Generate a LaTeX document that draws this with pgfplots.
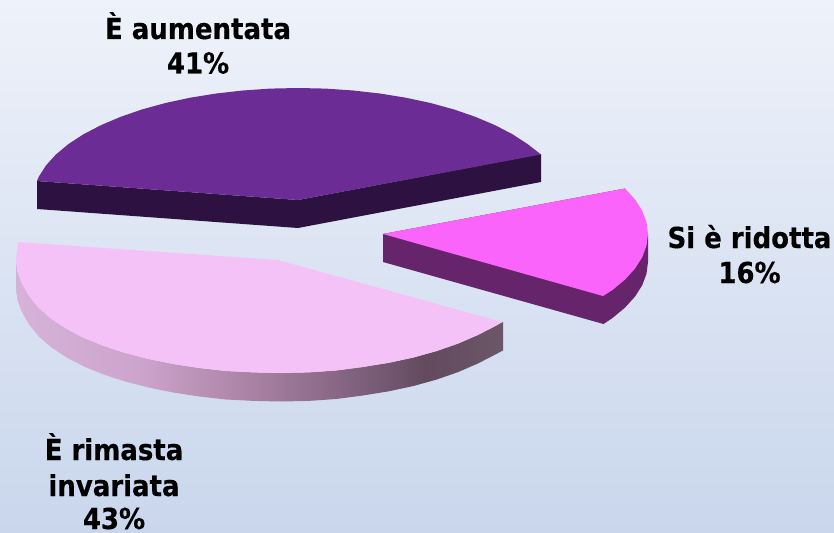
\documentclass[border=0pt]{standalone}
\usepackage{pgfplots}
\pgfplotsset{compat=1.18}
\usepackage{fontspec}
\setmainfont{DejaVu Sans Condensed}[BoldFeatures={FakeBold=0.35}]
\definecolor{bgtop}{HTML}{EEF2FA}
\definecolor{bgbot}{HTML}{C9D6EC}
\definecolor{aumtop}{HTML}{6B2C96}
\definecolor{aumside}{HTML}{2D1140}
\definecolor{ridtop}{HTML}{FA64FA}
\definecolor{ridside}{HTML}{66246A}
\definecolor{invtop}{HTML}{F5C2F8}
% Side wall of the large pale slice: light on the left, dark towards the right
\pgfdeclarehorizontalshading{invwall}{100bp}{
  rgb(0bp)=(0.84,0.70,0.85);
  rgb(25bp)=(0.84,0.70,0.85);
  rgb(38bp)=(0.80,0.64,0.80);
  rgb(50bp)=(0.65,0.50,0.63);
  rgb(60bp)=(0.50,0.38,0.49);
  rgb(67bp)=(0.39,0.29,0.37);
  rgb(75bp)=(0.42,0.34,0.41);
  rgb(100bp)=(0.42,0.34,0.41)}
\newcommand{\lab}[4]{\node[anchor=base,inner sep=0pt,font=\fontsize{#3}{#3}\selectfont\bfseries] at (axis cs:#1,#2) {#4};}
\begin{document}
\begin{tikzpicture}
\begin{axis}[
  scale only axis, width=834bp, height=533bp,
  xmin=0, xmax=834, ymin=0, ymax=533, y dir=reverse,
  hide axis, clip=false]
% backdrop
\addplot[draw=none, top color=bgtop, bottom color=bgbot] coordinates {(0,0) (834,0) (834,533) (0,533)} -- cycle;
% slice "È aumentata": wall, then top face
\addplot[draw=none, fill=aumside] coordinates {(37,181) (37,209) (298,228) (541,182) (541,154) (298,200)} -- cycle;
\addplot[draw=none, fill=aumtop] coordinates {(37,181) (38.8,176.7) (46,165.4) (55.9,154.5) (68.5,144) (83.6,134.2) (101.1,125.1) (120.7,116.8) (142.2,109.4) (165.5,103) (190.2,97.7) (216.1,93.5) (242.9,90.5) (270.3,88.6) (298,88) (325.7,88.6) (353.1,90.5) (379.9,93.5) (405.8,97.7) (430.5,103) (453.8,109.4) (475.3,116.8) (494.9,125.1) (512.4,134.2) (527.5,144) (541,154.5) (298,200)} -- cycle;
% slice "Si è ridotta"
\addplot[draw=none, fill=ridside] coordinates {(383,234) (383,262) (603.5,324) (612.5,318) (625.1,307.5) (635,296.6) (642.2,285.3) (646.5,273.7) (648,262) (648,234) (625.1,188.5)} -- cycle;
\addplot[draw=none, fill=ridtop] coordinates {(383,234) (625.1,188.5) (635,199.4) (642.2,210.7) (646.5,222.3) (648,234) (646.5,245.7) (642.2,257.3) (635,268.6) (625.1,279.5) (612.5,290) (603,296)} -- cycle;
% slice "È rimasta invariata"
\addplot[draw=none, shade, shading=invwall] coordinates {(16,260) (17.5,271.7) (21.8,283.3) (29,296) (38.9,308) (51.5,319) (66.6,329) (84.1,338) (103.7,346) (125.2,353) (148.5,359) (173.2,364) (199.1,368) (225.9,371) (253.3,372.4) (281,373) (308.7,372.4) (336.1,370.5) (362.9,367) (388.8,362.8) (413.5,357.5) (436.8,351) (458.3,343.5) (477.9,335) (495.4,326) (503,322) (503,350.5) (495.4,354.5) (477.9,363.5) (458.3,372) (436.8,379.5) (413.5,386) (388.8,391.3) (362.9,395.5) (336.1,399) (308.7,400.9) (281,401.5) (253.3,400.9) (225.9,399.5) (199.1,396.5) (173.2,392.5) (148.5,387.5) (125.2,381.5) (103.7,374.5) (84.1,366.5) (66.6,357.5) (51.5,347.5) (38.9,336.5) (29,324.5) (21.8,311.8) (17.5,300.2) (16,288.5)} -- cycle;
\addplot[draw=none, fill=invtop] coordinates {(18,242) (16,260) (17.5,271.7) (21.8,283.3) (29,296) (38.9,308) (51.5,319) (66.6,329) (84.1,338) (103.7,346) (125.2,353) (148.5,359) (173.2,364) (199.1,368) (225.9,371) (253.3,372.4) (281,373) (308.7,372.4) (336.1,370.5) (362.9,367) (388.8,362.8) (413.5,357.5) (436.8,351) (458.3,343.5) (477.9,335) (495.4,326) (502,322) (278,260)} -- cycle;
% labels
\lab{198}{39}{29}{È aumentata}
\lab{198}{73.5}{29}{41\%}
\lab{749.5}{248}{29}{Si è ridotta}
\lab{749.5}{283}{29}{16\%}
\lab{114}{460}{29}{È rimasta}
\lab{114}{496}{29}{invariata}
\lab{114}{529}{29}{43\%}
\end{axis}
\end{tikzpicture}
\end{document}
